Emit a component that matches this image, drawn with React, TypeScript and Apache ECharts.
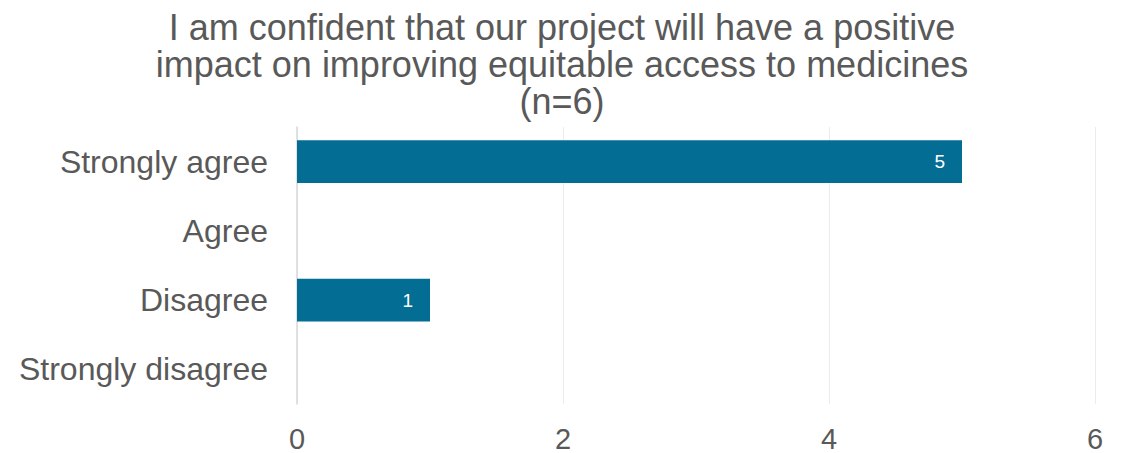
import React, { useEffect, useRef } from "react";
import * as echarts from "echarts";

const titleLines = [
  "I am confident that our project will have a positive",
  "impact on improving equitable access to medicines",
  "(n=6)",
];
const categories = ["Strongly agree", "Agree", "Disagree", "Strongly disagree"];
const counts = [5, 0, 1, 0];
const xTicks = { min: 0, max: 6, interval: 2 };

export default function App() {
  const ref = useRef<HTMLDivElement>(null);
  useEffect(() => {
    if (!ref.current) return;
    const chart = echarts.init(ref.current, null, { renderer: "svg" });
    chart.setOption({
      animation: false,
      backgroundColor: "#ffffff",
      title: {
        text: titleLines.join("\n"),
        left: "center",
        top: 4,
        textStyle: {
          fontFamily: "Liberation Sans",
          fontSize: 36,
          fontWeight: "normal",
          color: "#595959",
          lineHeight: 37,
        },
      },
      grid: { left: 297, right: 29, top: 127, bottom: 49, containLabel: false },
      xAxis: {
        type: "value",
        min: xTicks.min,
        max: xTicks.max,
        interval: xTicks.interval,
        axisLine: { show: false },
        axisTick: { show: false },
        splitLine: { show: true, lineStyle: { color: "#ececec", width: 1 } },
        axisLabel: {
          fontFamily: "Liberation Sans",
          fontSize: 29,
          color: "#595959",
          margin: 20,
        },
      },
      yAxis: {
        type: "category",
        data: categories,
        inverse: true,
        axisLine: { show: true, lineStyle: { color: "#d9d9d9", width: 1.5 } },
        axisTick: { show: false },
        axisLabel: {
          fontFamily: "Liberation Sans",
          fontSize: 32,
          color: "#595959",
          margin: 29,
        },
      },
      series: [
        {
          type: "bar",
          data: counts,
          barCategoryGap: "38%",
          itemStyle: { color: "#036d93" },
          label: {
            show: true,
            position: "insideRight",
            distance: 17,
            color: "#ffffff",
            fontFamily: "Liberation Sans",
            fontSize: 19,
            formatter: (p: any) => (p.value ? String(p.value) : ""),
          },
        },
      ],
    });
    return () => chart.dispose();
  }, []);
  return (
    <div
      ref={ref}
      style={{ position: "fixed", left: 0, top: 0, width: 1124, height: 453 }}
    />
  );
}
